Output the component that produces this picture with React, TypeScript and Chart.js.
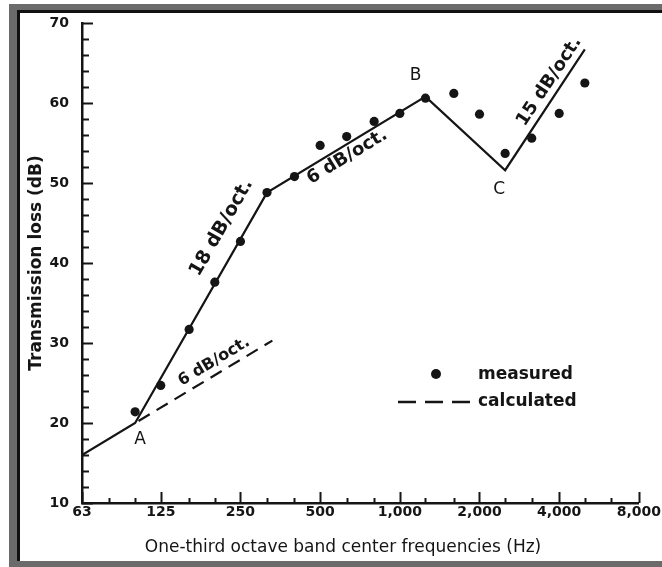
import React, { useEffect, useRef } from 'react';
import { Chart, registerables } from 'chart.js';

Chart.register(...registerables);

// one-third octave band centre frequencies (Hz) of the measured points
const bandFrequencies = [100, 125, 160, 200, 250, 315, 400, 500, 630, 800, 1000, 1250, 1600, 2000, 2500, 3150, 4000, 5000];
// measured transmission loss (dB)
const measuredLoss = [21.4, 24.7, 31.7, 37.6, 42.7, 48.8, 50.8, 54.7, 55.8, 57.7, 58.7, 60.6, 61.2, 58.6, 53.7, 55.6, 58.7, 62.5];

// calculated (solid) curve break points
const calculatedFrequencies = [63, 100, 315, 1250, 2500, 5000];
const calculatedLoss = [16, 20, 48.8, 60.8, 51.6, 66.7];

// calculated 6 dB/oct (dashed) line
const dashedFrequencies = [100, 330];
const dashedLoss = [20, 30.3];

// axis ticks
const octaveTicks = [63, 125, 250, 500, 1000, 2000, 4000, 8000];
const thirdOctaveTicks = [80, 100, 160, 200, 315, 400, 630, 800, 1250, 1600, 2500, 3150, 5000, 6300];
const yMajorTicks = [10, 20, 30, 40, 50, 60, 70];
const yMinorTicks = [12, 14, 16, 18, 22, 24, 26, 28, 32, 34, 36, 38, 42, 44, 46, 48, 52, 54, 56, 58, 62, 64, 66, 68];

// corner labels on the calculated curve (index into calculated arrays)
const cornerLabels = ['A', 'B', 'C'];
const cornerIndex = [1, 3, 4];

const slopeTexts = ['18 dB/oct.', '6 dB/oct.', '15 dB/oct.', '6 dB/oct.'];

const legendTexts = ['measured', 'calculated'];

const xAxisTitle = 'One-third octave band center frequencies (Hz)';
const yAxisTitle = 'Transmission loss (dB)';

const INK = '#151515';
const FONT = "'DejaVu Sans', 'Liberation Sans', sans-serif";
const TICK_FONT = "'DejaVu Sans', sans-serif";

const framePlugin = {
  id: 'scanFrame',
  beforeDraw(chart: any) {
    const { ctx, width, height } = chart;
    ctx.save();
    ctx.fillStyle = '#ffffff';
    ctx.fillRect(0, 0, width, height);
    ctx.fillStyle = '#6b6b6b';
    ctx.fillRect(9, 4, width - 9, 6);
    ctx.fillRect(9, 4, 8, height - 4);
    ctx.fillRect(9, height - 6, width - 9, 6);
    ctx.fillStyle = '#111111';
    ctx.fillRect(17, 10, width - 17, 3);
    ctx.fillRect(17, 10, 3, height - 16);
    ctx.restore();
  },
};

const tickMarksPlugin = {
  id: 'insideTicks',
  afterDraw(chart: any) {
    const { ctx, chartArea, scales } = chart;
    const x = scales.x;
    const y = scales.y;
    ctx.save();
    ctx.strokeStyle = INK;
    ctx.lineWidth = 2;
    ctx.beginPath();
    yMajorTicks.forEach((v) => {
      const py = Math.round(y.getPixelForValue(v)) + 0.5;
      ctx.moveTo(chartArea.left, py);
      ctx.lineTo(chartArea.left + 11, py);
    });
    yMinorTicks.forEach((v) => {
      const py = Math.round(y.getPixelForValue(v)) + 0.5;
      ctx.moveTo(chartArea.left, py);
      ctx.lineTo(chartArea.left + 7, py);
    });
    octaveTicks.forEach((v) => {
      const px = Math.round(x.getPixelForValue(v)) + 0.5;
      ctx.moveTo(px, chartArea.bottom);
      ctx.lineTo(px, chartArea.bottom - 11);
    });
    thirdOctaveTicks.forEach((v) => {
      const px = Math.round(x.getPixelForValue(v)) + 0.5;
      ctx.moveTo(px, chartArea.bottom);
      ctx.lineTo(px, chartArea.bottom - 5);
    });
    ctx.stroke();
    ctx.restore();
  },
};

const annotationPlugin = {
  id: 'annotations',
  afterDraw(chart: any) {
    const { ctx, chartArea, scales } = chart;
    const x = scales.x;
    const y = scales.y;
    const P = (f: number, v: number) => [x.getPixelForValue(f), y.getPixelForValue(v)];
    ctx.save();
    ctx.fillStyle = INK;
    ctx.textAlign = 'center';
    ctx.textBaseline = 'middle';

    // x axis title (scanned title sits a little left of the axis centre)
    ctx.font = `17px ${FONT}`;
    ctx.fillText(xAxisTitle, chartArea.left + 261, chartArea.bottom + 45);

    // corner letters
    const cornerOffsets = [[5, 17], [-10, -21], [-6, 19]];
    ctx.font = `17px ${FONT}`;
    cornerLabels.forEach((t, i) => {
      const k = cornerIndex[i];
      const [px, py] = P(calculatedFrequencies[k], calculatedLoss[k]);
      ctx.fillText(t, px + cornerOffsets[i][0], py + cornerOffsets[i][1]);
    });

    // slope labels along segments
    const segs = [
      { a: P(calculatedFrequencies[1], calculatedLoss[1]), b: P(calculatedFrequencies[2], calculatedLoss[2]), t: 0.8, off: 22, size: 19 },
      { a: P(calculatedFrequencies[2], calculatedLoss[2]), b: P(calculatedFrequencies[3], calculatedLoss[3]), t: 0.47, off: -11, size: 18 },
      { a: P(calculatedFrequencies[4], calculatedLoss[4]), b: P(calculatedFrequencies[5], calculatedLoss[5]), t: 0.68, off: 12, size: 18 },
      { a: P(dashedFrequencies[0], dashedLoss[0]), b: P(dashedFrequencies[1], dashedLoss[1]), t: 0.62, off: 12, size: 16 },
    ];
    segs.forEach((s, i) => {
      const dx = s.b[0] - s.a[0];
      const dy = s.b[1] - s.a[1];
      const ang = Math.atan2(dy, dx);
      const cx = s.a[0] + dx * s.t + Math.sin(ang) * s.off;
      const cy = s.a[1] + dy * s.t - Math.cos(ang) * s.off;
      ctx.save();
      ctx.font = `bold ${s.size}px ${FONT}`;
      ctx.translate(cx, cy);
      ctx.rotate(ang);
      ctx.fillText(slopeTexts[i], 0, 0);
      ctx.restore();
    });

    // legend
    const lx = chartArea.left + 354;
    const ly = chartArea.top + 351;
    ctx.beginPath();
    ctx.arc(lx, ly, 5, 0, Math.PI * 2);
    ctx.fill();
    ctx.strokeStyle = INK;
    ctx.lineWidth = 2.5;
    ctx.setLineDash([18, 9]);
    ctx.beginPath();
    ctx.moveTo(chartArea.left + 316, ly + 28);
    ctx.lineTo(chartArea.left + 388, ly + 28);
    ctx.stroke();
    ctx.setLineDash([]);
    ctx.font = `bold 17px ${FONT}`;
    ctx.textAlign = 'left';
    ctx.fillText(legendTexts[0], chartArea.left + 396, ly + 1);
    ctx.fillText(legendTexts[1], chartArea.left + 396, ly + 28);
    ctx.restore();
  },
};

export default function App() {
  const ref = useRef<HTMLCanvasElement>(null);
  useEffect(() => {
    const chart = new Chart(ref.current as HTMLCanvasElement, {
      type: 'scatter',
      data: {
        datasets: [
          {
            label: 'measured',
            data: bandFrequencies.map((f, i) => ({ x: f, y: measuredLoss[i] })),
            showLine: false,
            pointRadius: 4.6,
            pointBackgroundColor: INK,
            pointBorderColor: INK,
            pointBorderWidth: 0,
          },
          {
            label: 'calculated',
            data: calculatedFrequencies.map((f, i) => ({ x: f, y: calculatedLoss[i] })),
            showLine: true,
            borderColor: INK,
            borderWidth: 2.2,
            pointRadius: 0,
          },
          {
            label: 'calculated 6 dB/oct.',
            data: dashedFrequencies.map((f, i) => ({ x: f, y: dashedLoss[i] })),
            showLine: true,
            borderColor: INK,
            borderWidth: 2.2,
            borderDash: [13, 8],
            borderDashOffset: -4,
            pointRadius: 0,
          },
        ],
      },
      options: {
        animation: false,
        responsive: false,
        devicePixelRatio: 1,
        layout: { padding: { left: 0, top: 23, right: 23, bottom: 0 } },
        plugins: { legend: { display: false }, tooltip: { enabled: false } },
        scales: {
          x: {
            type: 'logarithmic',
            position: 'bottom',
            min: 63,
            max: 8000,
            afterBuildTicks: (s: any) => {
              s.ticks = octaveTicks.map((v) => ({ value: v }));
            },
            afterFit: (s: any) => {
              s.height = 64;
            },
            grid: { display: false, drawTicks: false },
            border: { display: true, color: INK, width: 2.5 },
            ticks: {
              color: INK,
              padding: 1,
              autoSkip: false,
              maxRotation: 0,
              font: { family: TICK_FONT, size: 14, weight: 'bold' },
              callback: (v: any) => Number(v).toLocaleString('en-US'),
            },
            title: { display: false, text: xAxisTitle },
          },
          y: {
            type: 'linear',
            min: 10,
            max: 70,
            afterBuildTicks: (s: any) => {
              s.ticks = yMajorTicks.map((v) => ({ value: v }));
            },
            afterFit: (s: any) => {
              s.width = 82;
            },
            grid: { display: false, drawTicks: false },
            border: { display: true, color: INK, width: 2.5 },
            ticks: {
              color: INK,
              padding: 13,
              font: { family: TICK_FONT, size: 14, weight: 'bold' },
            },
            title: {
              display: true,
              text: yAxisTitle,
              color: INK,
              font: { family: FONT, size: 17, weight: 'bold' },
              padding: { top: 26, bottom: 0 },
            },
          },
        },
      },
      plugins: [framePlugin, tickMarksPlugin, annotationPlugin],
    } as any);
    return () => chart.destroy();
  }, []);
  return (
    <canvas
      ref={ref}
      width={662}
      height={567}
      style={{ position: 'fixed', left: 0, top: 0, width: 662, height: 567, display: 'block' }}
    />
  );
}
